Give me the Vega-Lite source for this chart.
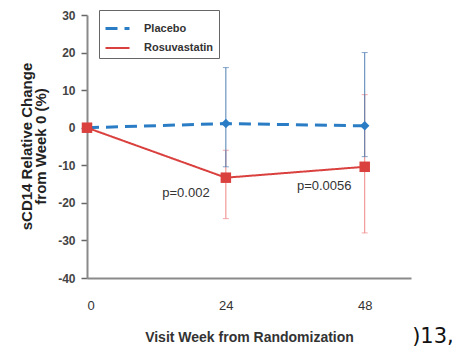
{
  "$schema": "https://vega.github.io/schema/vega-lite/v6.json",
  "autosize": "none",
  "width": 324,
  "height": 263,
  "padding": {"left": 87, "top": 15, "right": 41, "bottom": 71},
  "background": "white",
  "title": {
    "text": ["sCD14 Relative Change", "from Week 0 (%)"],
    "orient": "left", "anchor": "middle", "frame": "group",
    "fontSize": 15, "fontWeight": "bold", "color": "#222", "lineHeight": 14,
    "font": "Liberation Sans, Arial", "offset": 9
  },
  "config": {
    "view": {"stroke": null},
    "font": "Liberation Sans, Arial, sans-serif",
    "axisY": {"grid": false, "tickSize": 6, "tickColor": "#666", "tickWidth": 1.5, "labelPadding": 6, "domainColor": "#8a8a8a", "domainWidth": 2, "labelFontSize": 12, "labelFontWeight": "bold", "labelColor": "#444", "tickCount": 8, "labelOverlap": false},
    "axisX": {"ticks": false, "grid": false, "labelPadding": 21, "domainColor": "#8a8a8a", "domainWidth": 2, "labelFontSize": 13, "labelColor": "#333", "titleFontSize": 14, "titleFontWeight": "bold", "titleColor": "#333", "titlePadding": 18}
  },
  "datasets": {
    "series": [
      {"group": "Placebo", "week": 0, "mean": 0, "lo": null, "hi": null},
      {"group": "Placebo", "week": 24, "mean": 1.1, "lo": -10.4, "hi": 16},
      {"group": "Placebo", "week": 48, "mean": 0.5, "lo": -7.7, "hi": 20},
      {"group": "Rosuvastatin", "week": 0, "mean": 0, "lo": null, "hi": null},
      {"group": "Rosuvastatin", "week": 24, "mean": -13.3, "lo": -24.2, "hi": -6},
      {"group": "Rosuvastatin", "week": 48, "mean": -10.4, "lo": -28, "hi": 8.8}
    ],
    "notes": [
      {"week": 17.1, "val": -17.3, "label": "p=0.002"},
      {"week": 41.0, "val": -15.4, "label": "p=0.0056"}
    ]
  },
  "encoding": {
    "x": {"field": "week", "type": "quantitative", "scale": {"domain": [0, 56], "nice": false},
      "axis": {"values": [0, 24, 48], "title": "Visit Week from Randomization"}}
  },
  "layer": [
    {
      "data": {"name": "series"},
      "transform": [{"filter": "datum.group === 'Rosuvastatin' && datum.lo != null"}],
      "layer": [
        {"mark": {"type": "rule", "color": "#ef8585", "strokeWidth": 1},
         "encoding": {"y": {"field": "lo", "type": "quantitative", "title": null, "scale": {"domain": [-40, 30], "nice": false},
           "axis": {"values": [-40, -30, -20, -10, 0, 10, 20, 30], "labelExpr": "datum.value < 0 ? '-' + abs(datum.value) : '' + datum.value"}},
           "y2": {"field": "hi"}}},
        {"mark": {"type": "tick", "orient": "horizontal", "color": "#ef8585", "thickness": 1, "size": 6},
         "encoding": {"y": {"field": "lo", "type": "quantitative", "title": null, "axis": {"values": [-40, -30, -20, -10, 0, 10, 20, 30], "labelExpr": "datum.value < 0 ? '-' + abs(datum.value) : '' + datum.value"}}}},
        {"mark": {"type": "tick", "orient": "horizontal", "color": "#ef8585", "thickness": 1, "size": 6},
         "encoding": {"y": {"field": "hi", "type": "quantitative", "title": null, "axis": {"values": [-40, -30, -20, -10, 0, 10, 20, 30], "labelExpr": "datum.value < 0 ? '-' + abs(datum.value) : '' + datum.value"}}}}
      ]
    },
    {
      "data": {"name": "series"},
      "transform": [{"filter": "datum.group === 'Placebo' && datum.lo != null"}],
      "layer": [
        {"mark": {"type": "rule", "color": "#4f7fb3", "strokeWidth": 1},
         "encoding": {"y": {"field": "lo", "type": "quantitative", "title": null, "axis": {"values": [-40, -30, -20, -10, 0, 10, 20, 30], "labelExpr": "datum.value < 0 ? '-' + abs(datum.value) : '' + datum.value"}}, "y2": {"field": "hi"}}},
        {"mark": {"type": "tick", "orient": "horizontal", "color": "#4f7fb3", "thickness": 1, "size": 6},
         "encoding": {"y": {"field": "lo", "type": "quantitative", "title": null, "axis": {"values": [-40, -30, -20, -10, 0, 10, 20, 30], "labelExpr": "datum.value < 0 ? '-' + abs(datum.value) : '' + datum.value"}}}},
        {"mark": {"type": "tick", "orient": "horizontal", "color": "#4f7fb3", "thickness": 1, "size": 6},
         "encoding": {"y": {"field": "hi", "type": "quantitative", "title": null, "axis": {"values": [-40, -30, -20, -10, 0, 10, 20, 30], "labelExpr": "datum.value < 0 ? '-' + abs(datum.value) : '' + datum.value"}}}}
      ]
    },
    {
      "data": {"name": "series"},
      "mark": {"type": "line"},
      "encoding": {
        "y": {"field": "mean", "type": "quantitative", "title": null, "axis": {"values": [-40, -30, -20, -10, 0, 10, 20, 30], "labelExpr": "datum.value < 0 ? '-' + abs(datum.value) : '' + datum.value"}},
        "color": {"field": "group", "type": "nominal",
          "scale": {"domain": ["Placebo", "Rosuvastatin"], "range": ["#2a7dc4", "#d9403e"]},
          "legend": {
            "title": null, "orient": "none", "legendX": 12, "legendY": -5,
            "direction": "vertical", "padding": 5, "strokeColor": "#666", "fillColor": "white",
            "symbolSize": 576, "symbolType": "stroke", "symbolStrokeWidth": 2.5,
            "labelFontSize": 11, "labelFontWeight": "bold", "labelColor": "#333", "labelOffset": 13,
            "rowPadding": 0
          }},
        "strokeDash": {"field": "group", "type": "nominal", "scale": {"domain": ["Placebo", "Rosuvastatin"], "range": [[12, 7], [1, 0]]},
          "legend": {
            "title": null, "orient": "none", "legendX": 12, "legendY": -5,
            "direction": "vertical", "padding": 5, "strokeColor": "#666", "fillColor": "white",
            "symbolSize": 576, "symbolType": "stroke", "symbolStrokeWidth": 2.5,
            "labelFontSize": 11, "labelFontWeight": "bold", "labelColor": "#333", "labelOffset": 13,
            "rowPadding": 0
          }},
        "strokeWidth": {"field": "group", "type": "nominal", "scale": {"domain": ["Placebo", "Rosuvastatin"], "range": [3, 2]}, "legend": null}
      }
    },
    {
      "data": {"name": "series"},
      "transform": [{"filter": "datum.group === 'Placebo'"}],
      "mark": {"type": "point", "filled": true, "opacity": 1, "size": 90, "shape": "diamond", "color": "#2a7dc4"},
      "encoding": {
        "y": {"field": "mean", "type": "quantitative", "title": null, "axis": {"values": [-40, -30, -20, -10, 0, 10, 20, 30], "labelExpr": "datum.value < 0 ? '-' + abs(datum.value) : '' + datum.value"}}
      }
    },
    {
      "data": {"name": "series"},
      "transform": [{"filter": "datum.group === 'Rosuvastatin'"}],
      "mark": {"type": "point", "filled": true, "opacity": 1, "size": 110, "shape": "square", "color": "#d9403e"},
      "encoding": {
        "y": {"field": "mean", "type": "quantitative", "title": null, "axis": {"values": [-40, -30, -20, -10, 0, 10, 20, 30], "labelExpr": "datum.value < 0 ? '-' + abs(datum.value) : '' + datum.value"}}
      }
    },
    {
      "data": {"name": "notes"},
      "mark": {"type": "text", "fontSize": 13, "color": "#333"},
      "encoding": {
        "y": {"field": "val", "type": "quantitative", "title": null, "axis": {"values": [-40, -30, -20, -10, 0, 10, 20, 30], "labelExpr": "datum.value < 0 ? '-' + abs(datum.value) : '' + datum.value"}},
        "text": {"field": "label"}
      }
    },
    {
      "data": {"values": [{"week": 56.2, "val": -55.6, "label": ")13,"}]},
      "mark": {"type": "text", "fontSize": 21, "color": "#111", "align": "left", "clip": false, "font": "DejaVu Sans"},
      "encoding": {
        "y": {"field": "val", "type": "quantitative", "title": null, "axis": {"values": [-40, -30, -20, -10, 0, 10, 20, 30], "labelExpr": "datum.value < 0 ? '-' + abs(datum.value) : '' + datum.value"}},
        "text": {"field": "label"}
      }
    }
  ]
}
